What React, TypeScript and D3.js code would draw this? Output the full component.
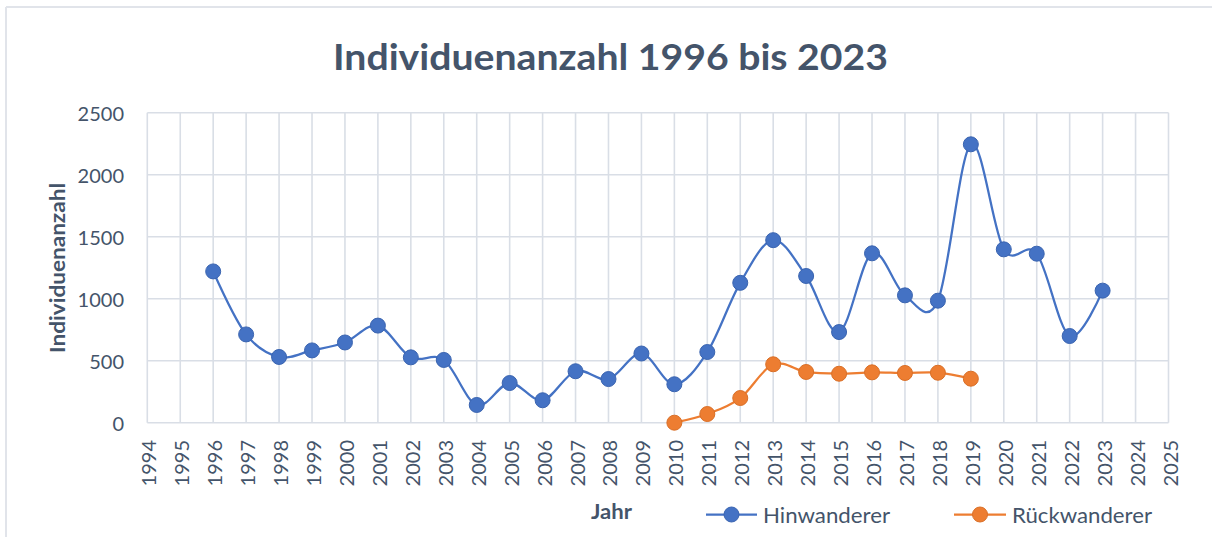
import React from "react";
import * as d3 from "d3";

const years: number[] = d3.range(1994, 2026);
const hinYears: number[] = [1996, 1997, 1998, 1999, 2000, 2001, 2002, 2003, 2004, 2005, 2006, 2007, 2008, 2009, 2010, 2011, 2012, 2013, 2014, 2015, 2016, 2017, 2018, 2019, 2020, 2021, 2022, 2023];
const hinValues: number[] = [1220, 712, 530, 583, 647, 783, 527, 506, 143, 320, 181, 415, 352, 558, 310, 570, 1128, 1472, 1183, 731, 1366, 1027, 984, 2245, 1398, 1363, 699, 1065];
const rueckYears: number[] = [2010, 2011, 2012, 2013, 2014, 2015, 2016, 2017, 2018, 2019];
const rueckValues: number[] = [0, 70, 199, 471, 409, 395, 406, 401, 403, 355];
const yTicks: number[] = [0, 500, 1000, 1500, 2000, 2500];

const TITLE = "Individuenanzahl 1996 bis 2023";
const Y_TITLE = "Individuenanzahl";
const X_TITLE = "Jahr";
const SERIES_NAMES = ["Hinwanderer", "Rückwanderer"];
const COLORS = ["#4472C4", "#ED7D31"];
const STROKES = ["#3A64B0", "#D96F27"];

const TEXT = "#44546A";
const GRID = "#D9DEE6";
const FONT = "Lato, 'Open Sans', sans-serif";

export default function App() {
  const W = 1212;
  const H = 537;
  const x = d3.scaleLinear().domain([1994, 2025]).range([147.3, 1168.5]);
  const y = d3.scaleLinear().domain([0, 2500]).range([422.7, 112.7]);

  const line = d3
    .line<[number, number]>()
    .x((d) => x(d[0]))
    .y((d) => y(d[1]))
    .curve(d3.curveCardinal.tension(0));

  const hin: [number, number][] = hinYears.map((yr, i) => [yr, hinValues[i]]);
  const rue: [number, number][] = rueckYears.map((yr, i) => [yr, rueckValues[i]]);
  const series = [hin, rue];

  const legend = [
    { x0: 706, x1: 757, cx: 731.5, tx: 763, len: 127 },
    { x0: 954, x1: 1006, cx: 980, tx: 1012, len: 140 },
  ];
  const legY = 514.5;

  return (
    <svg
      width={W}
      height={H}
      style={{ position: "absolute", left: 0, top: 0, background: "#fff" }}
      fontFamily={FONT}
    >
      {/* chart frame */}
      <line x1={6} y1={7} x2={6} y2={H} stroke="#E1E4EA" strokeWidth={2} />
      <line x1={6} y1={7} x2={W} y2={7} stroke="#E1E4EA" strokeWidth={2} />

      <text
        x={333}
        y={55}
        dominantBaseline="central"
        fontSize={37}
        fontWeight={700}
        fill={TEXT}
        textLength={555}
        lengthAdjust="spacingAndGlyphs"
      >
        {TITLE}
      </text>

      {/* grid */}
      {years.map((yr) => (
        <line key={"v" + yr} x1={x(yr)} x2={x(yr)} y1={y(2500)} y2={y(0)} stroke={GRID} strokeWidth={1.6} />
      ))}
      {yTicks.map((t) => (
        <line key={"h" + t} x1={x(1994)} x2={x(2025)} y1={y(t)} y2={y(t)} stroke={GRID} strokeWidth={1.6} />
      ))}

      {/* y tick labels */}
      {yTicks.map((t) => (
        <text key={"yt" + t} x={124} y={y(t)} textAnchor="end" dominantBaseline="central" fontSize={20} fill={TEXT}>
          {t}
        </text>
      ))}

      {/* x tick labels */}
      {years.map((yr) => (
        <text
          key={"xt" + yr}
          transform={`translate(${x(yr) + 1},440) rotate(-90)`}
          textAnchor="end"
          dominantBaseline="central"
          fontSize={20}
          fill={TEXT}
        >
          {yr}
        </text>
      ))}

      {/* axis titles */}
      <text
        transform={`translate(56,268) rotate(-90)`}
        textAnchor="middle"
        dominantBaseline="central"
        fontSize={21}
        fontWeight={700}
        fill={TEXT}
        textLength={170}
        lengthAdjust="spacingAndGlyphs"
      >
        {Y_TITLE}
      </text>
      <text
        x={591}
        y={510}
        dominantBaseline="central"
        fontSize={21}
        fontWeight={700}
        fill={TEXT}
        textLength={41}
        lengthAdjust="spacingAndGlyphs"
      >
        {X_TITLE}
      </text>

      {/* series */}
      {series.map((s, i) => (
        <g key={"s" + i}>
          <path d={line(s) || ""} fill="none" stroke={COLORS[i]} strokeWidth={2.25} />
          {s.map((d, j) => (
            <circle key={j} cx={x(d[0])} cy={y(d[1])} r={7.5} fill={COLORS[i]} stroke={STROKES[i]} strokeWidth={1} />
          ))}
        </g>
      ))}

      {/* legend */}
      {legend.map((l, i) => (
        <g key={"l" + i}>
          <line x1={l.x0} x2={l.x1} y1={legY} y2={legY} stroke={COLORS[i]} strokeWidth={2.25} />
          <circle cx={l.cx} cy={legY} r={7.5} fill={COLORS[i]} stroke={STROKES[i]} strokeWidth={1} />
          <text
            x={l.tx}
            y={legY}
            dominantBaseline="central"
            fontSize={21}
            fill={TEXT}
            textLength={l.len}
            lengthAdjust="spacingAndGlyphs"
          >
            {SERIES_NAMES[i]}
          </text>
        </g>
      ))}
    </svg>
  );
}
